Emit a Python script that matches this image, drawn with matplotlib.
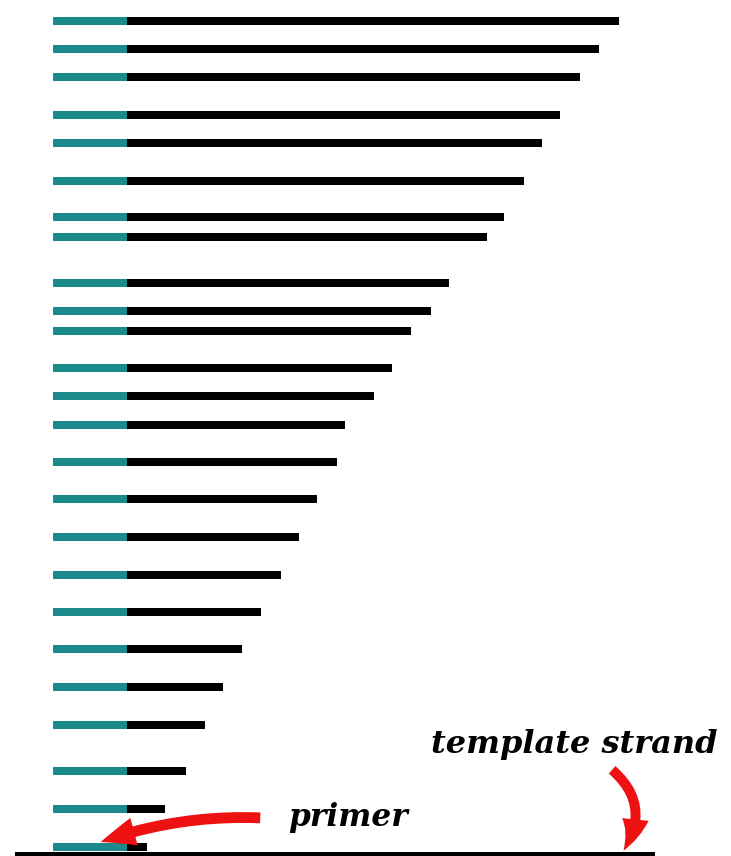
import matplotlib
matplotlib.use("Agg")
import matplotlib.pyplot as plt
from matplotlib.patches import FancyArrowPatch

# Data (in picture units)
band_y = [20.5, 48.5, 76.5, 114.5, 142.5, 180.5, 216.5, 236.5, 282.5, 310.5,
          330.5, 367.5, 395.5, 424.5, 461.5, 498.5, 536.5, 574.5, 611.5, 649.0,
          686.5, 724.5, 770.5, 808.5, 846.5]
fragment_end = [619, 599, 580, 560, 542, 524, 504, 487, 449, 431,
                411, 392, 374, 345, 337, 317, 299, 281, 261, 242,
                223, 205, 186, 165, 147]
primer_start = 53
primer_end = 127
template_start = 15
template_end = 655
labels = ["template strand", "primer"]

W, H = 731, 856
fig = plt.figure(figsize=(W / 100, H / 100), dpi=100)
ax = fig.add_axes([0, 0, 1, 1])
ax.set_xlim(0, W)
ax.set_ylim(H, 0)
ax.axis("off")

teal = "#1a8a8a"
bar_h = 8
n = len(band_y)
ax.barh(band_y, [primer_end - primer_start] * n, left=primer_start,
        height=bar_h, color=teal, linewidth=0)
ax.barh(band_y, [e - primer_end for e in fragment_end], left=primer_end,
        height=bar_h, color="black", linewidth=0)

# template strand
ax.plot([template_start, template_end], [853.5, 853.5], color="black",
        lw=2.9, solid_capstyle="butt")

font = dict(family="DejaVu Serif", style="italic", weight="bold", color="black")
ax.text(431, 753, labels[0], fontsize=23, ha="left", va="baseline", **font)
ax.text(288, 826, labels[1], fontsize=22.5, ha="left", va="baseline", **font)

red = "#ee1111"
a1 = FancyArrowPatch((263, 818), (98, 843),
                     connectionstyle="arc3,rad=0.1",
                     arrowstyle="simple,head_width=3.4,head_length=4.2,tail_width=1.3",
                     mutation_scale=6, color=red, lw=0)
ax.add_patch(a1)
a2 = FancyArrowPatch((610, 768), (622, 853),
                     connectionstyle="arc3,rad=-0.45",
                     arrowstyle="simple,head_width=3.2,head_length=4,tail_width=1.2",
                     mutation_scale=6, color=red, lw=0)
ax.add_patch(a2)

fig.savefig("out.png", dpi=100)
